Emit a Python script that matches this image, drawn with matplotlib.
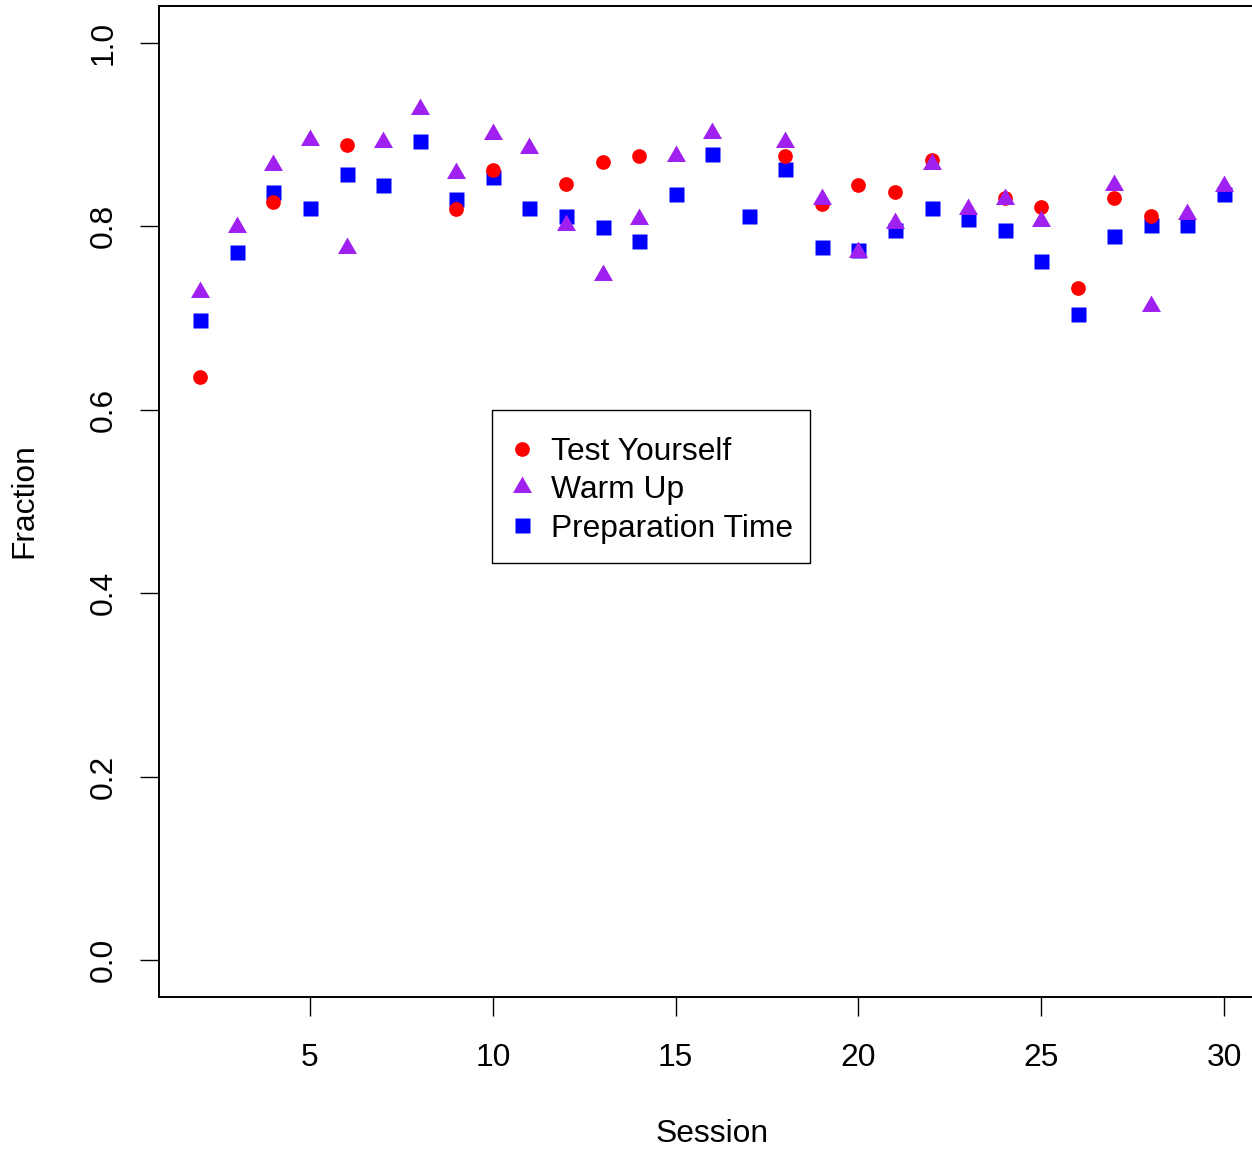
import numpy as np
import matplotlib
matplotlib.use("Agg")
import matplotlib.pyplot as plt
from matplotlib.path import Path
from matplotlib.lines import Line2D
from matplotlib.patches import Rectangle

plt.rcParams['font.family'] = ['Liberation Sans', 'DejaVu Sans']

sessions = list(range(2, 31))
nan = np.nan
test_yourself = [0.636, nan, 0.827, nan, 0.889, nan, nan, 0.819, 0.861, nan,
                 0.846, 0.870, 0.877, nan, nan, nan, 0.877, 0.824, 0.845, 0.837,
                 0.872, nan, 0.831, 0.821, 0.733, 0.831, 0.811, nan, nan]
warm_up = [0.728, 0.799, 0.867, 0.894, 0.776, 0.892, 0.928, 0.858, 0.901, 0.886,
           0.801, 0.747, 0.808, 0.877, 0.902, nan, 0.892, 0.830, 0.772, 0.804,
           0.868, 0.819, 0.830, 0.806, nan, 0.845, 0.713, 0.813, 0.844]
prep_time = [0.698, 0.772, 0.838, 0.820, 0.857, 0.845, 0.893, 0.830, 0.854, 0.820,
             0.811, 0.799, 0.784, 0.835, 0.879, 0.811, 0.863, 0.777, 0.774, 0.796,
             0.820, 0.808, 0.796, 0.762, 0.704, 0.789, 0.802, 0.802, 0.835]
series_labels = ["Test Yourself", "Warm Up", "Preparation Time"]
x_ticks = [5, 10, 15, 20, 25, 30]
y_ticks = [0.0, 0.2, 0.4, 0.6, 0.8, 1.0]
y_tick_labels = ["0.0", "0.2", "0.4", "0.6", "0.8", "1.0"]

W, H = 1252, 1151
DPI = 100
fig = plt.figure(figsize=(W / DPI, H / DPI), dpi=DPI)

def fx(px):
    return px / W

def fy(py):
    return 1 - py / H

# axes box in pixels (right edge extends past the image)
left_px, right_px, top_px, bot_px = 159.4, 1265.0, 6.3, 996.7
ax = fig.add_axes([fx(left_px), fy(bot_px), fx(right_px - left_px), (bot_px - top_px) / H])
ax.set_xlim(0.88, 31.12)
ax.set_ylim(-0.04, 1.04)

# R-style filled triangle (centroid at the data point)
tri = Path([(0, 1), (-0.8660254, -0.5), (0.8660254, -0.5), (0, 1)],
           [Path.MOVETO, Path.LINETO, Path.LINETO, Path.CLOSEPOLY])

red = "#FF0000"
purple = "#A020F0"
blue = "#0000FF"
ms_circle = 10.6
ms_square = 10.8
ms_tri = 15.8

ax.plot(sessions, prep_time, ls='none', marker='s', ms=ms_square, color=blue,
        mec='none', zorder=3)
ax.plot(sessions, test_yourself, ls='none', marker='o', ms=ms_circle, color=red,
        mec='none', zorder=4)
ax.plot(sessions, warm_up, ls='none', marker=tri, ms=ms_tri, color=purple,
        mec='none', zorder=5)

ax.set_xticks(x_ticks)
ax.set_xticklabels([str(v) for v in x_ticks])
ax.set_yticks(y_ticks)
ax.set_yticklabels(y_tick_labels, rotation=90, va='center')

fs = 22.9
ax.tick_params(axis='both', which='major', length=13.7, width=1.0, labelsize=fs,
               direction='out', color='black')
ax.tick_params(axis='x', pad=19.5)
ax.tick_params(axis='y', pad=15.5)
for sp in ax.spines.values():
    sp.set_linewidth(1.4)
    sp.set_color('black')

fig.text(fx(712), fy(1134), "Session", ha='center', va='center', fontsize=fs)
fig.text(fx(24), fy(501), "Fraction", ha='center', va='center', fontsize=fs,
         rotation=90)

# legend frame
fig.patches.append(Rectangle((fx(492.3), fy(563.3)), fx(810 - 492.3), (563.3 - 410) / H,
                             transform=fig.transFigure, facecolor='white',
                             edgecolor='black', linewidth=1.0, zorder=6))
handles = [
    Line2D([], [], ls='none', marker='o', ms=ms_circle, color=red, mec='none'),
    Line2D([], [], ls='none', marker=tri, ms=ms_tri, color=purple, mec='none'),
    Line2D([], [], ls='none', marker='s', ms=ms_square, color=blue, mec='none'),
]
fs_px = fs * DPI / 72
hl = 1.0
anchor_x = 521.7 - hl * fs_px / 2
leg = fig.legend(handles, series_labels, loc='upper left',
                 bbox_to_anchor=(fx(anchor_x), fy(437)),
                 bbox_transform=fig.transFigure, frameon=False, fontsize=fs,
                 borderpad=0, borderaxespad=0, handlelength=hl,
                 handletextpad=(551 - 521.7 - hl * fs_px / 2) / fs_px,
                 labelspacing=0.26)
leg.set_zorder(7)

fig.savefig("out.png", dpi=DPI)
